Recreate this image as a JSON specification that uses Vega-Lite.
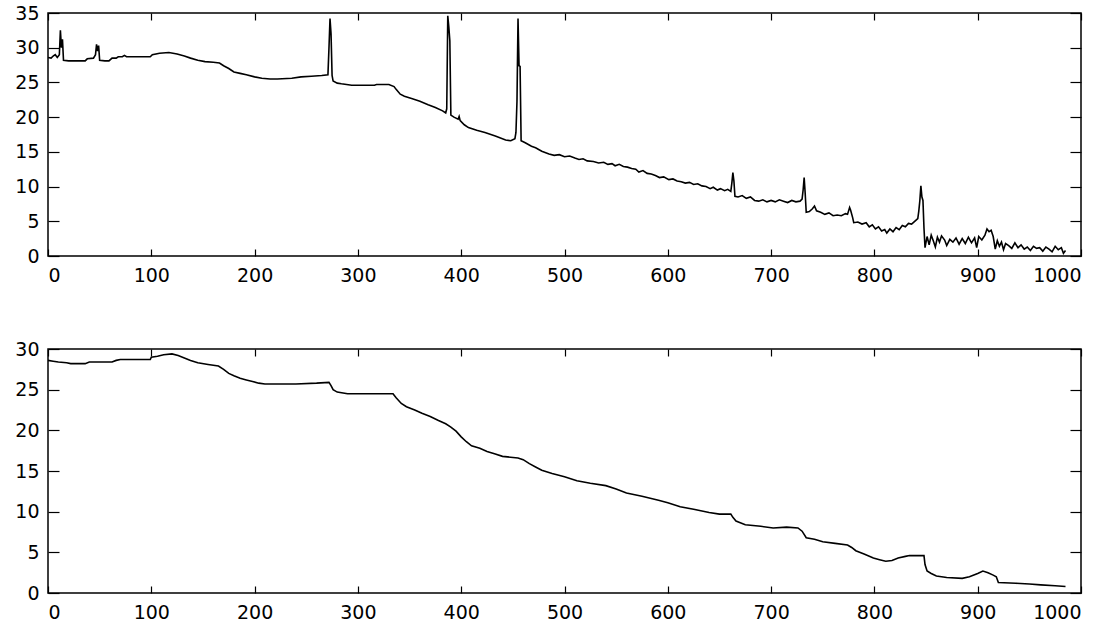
{
  "$schema": "https://vega.github.io/schema/vega-lite/v6.json",
  "background": "white",
  "padding": {"left": 14, "top": 3, "right": 5, "bottom": 5},
  "spacing": 93,
  "bounds": "flush",
  "config": {
    "view": {"stroke": "black", "strokeWidth": 1.5},
    "axis": {"labelFont": "DejaVu Sans", "labelFontSize": 19, "labelColor": "black", "domain": false, "tickColor": "black", "tickWidth": 1.2, "grid": false},
    "line": {"color": "black", "strokeWidth": 1.6}
  },
  "datasets": {
    "raw": [
      {"x":0,"y":28.6},{"x":3,"y":28.5},{"x":5,"y":28.8},{"x":7,"y":29.0},{"x":9,"y":28.6},{"x":11,"y":29.0},{"x":12,"y":32.5},{"x":13,"y":30.0},{"x":14,"y":31.2},{"x":15,"y":28.2},{"x":20,"y":28.1},{"x":30,"y":28.1},{"x":36,"y":28.1},{"x":38,"y":28.4},{"x":44,"y":28.5},{"x":46,"y":29.0},{"x":47,"y":30.5},{"x":48,"y":29.5},{"x":49,"y":30.3},{"x":50,"y":28.2},{"x":55,"y":28.1},{"x":59,"y":28.1},{"x":62,"y":28.5},{"x":66,"y":28.5},{"x":68,"y":28.7},{"x":72,"y":28.7},{"x":74,"y":28.9},{"x":76,"y":28.7},{"x":90,"y":28.7},{"x":99,"y":28.7},{"x":101,"y":29.0},{"x":108,"y":29.2},{"x":117,"y":29.3},{"x":125,"y":29.1},{"x":132,"y":28.8},{"x":138,"y":28.5},{"x":145,"y":28.2},{"x":152,"y":28.0},{"x":160,"y":27.9},{"x":166,"y":27.8},{"x":170,"y":27.4},{"x":175,"y":27.0},{"x":180,"y":26.5},{"x":186,"y":26.3},{"x":192,"y":26.1},{"x":200,"y":25.8},{"x":207,"y":25.6},{"x":215,"y":25.5},{"x":222,"y":25.5},{"x":236,"y":25.6},{"x":245,"y":25.8},{"x":255,"y":25.9},{"x":265,"y":26.0},{"x":271,"y":26.1},{"x":272,"y":30.0},{"x":273,"y":34.2},{"x":274,"y":32.0},{"x":275,"y":26.0},{"x":276,"y":25.2},{"x":280,"y":24.9},{"x":284,"y":24.8},{"x":294,"y":24.6},{"x":316,"y":24.6},{"x":318,"y":24.7},{"x":330,"y":24.7},{"x":335,"y":24.4},{"x":337,"y":24.0},{"x":341,"y":23.3},{"x":345,"y":23.0},{"x":352,"y":22.7},{"x":360,"y":22.3},{"x":368,"y":21.8},{"x":375,"y":21.4},{"x":382,"y":20.9},{"x":385,"y":20.6},{"x":386,"y":21.2},{"x":387,"y":34.6},{"x":388,"y":33.0},{"x":389,"y":31.0},{"x":390,"y":20.3},{"x":393,"y":20.0},{"x":397,"y":19.7},{"x":398,"y":20.1},{"x":399,"y":19.5},{"x":403,"y":18.9},{"x":407,"y":18.5},{"x":415,"y":18.1},{"x":423,"y":17.8},{"x":433,"y":17.3},{"x":443,"y":16.7},{"x":448,"y":16.6},{"x":452,"y":16.9},{"x":453,"y":17.8},{"x":454,"y":22.3},{"x":455,"y":34.2},{"x":456,"y":27.4},{"x":457,"y":27.3},{"x":458,"y":16.6},{"x":462,"y":16.3},{"x":468,"y":15.8},{"x":472,"y":15.6},{"x":478,"y":15.1},{"x":485,"y":14.7},
      {"x":490,"y":14.5},{"x":495,"y":14.6},{"x":500,"y":14.3},{"x":505,"y":14.4},{"x":510,"y":14.1},{"x":514,"y":13.9},{"x":518,"y":14.0},{"x":522,"y":13.7},{"x":528,"y":13.6},{"x":533,"y":13.4},{"x":538,"y":13.5},{"x":542,"y":13.2},{"x":546,"y":13.3},{"x":549,"y":13.0},{"x":553,"y":13.2},{"x":557,"y":12.9},{"x":561,"y":12.8},{"x":565,"y":12.6},{"x":569,"y":12.5},{"x":572,"y":12.1},{"x":576,"y":12.3},{"x":580,"y":11.9},{"x":584,"y":11.8},{"x":588,"y":11.6},{"x":592,"y":11.3},{"x":596,"y":11.4},{"x":601,"y":11.0},{"x":605,"y":11.1},{"x":609,"y":10.8},{"x":613,"y":10.7},{"x":617,"y":10.5},{"x":621,"y":10.6},{"x":625,"y":10.3},{"x":629,"y":10.4},{"x":633,"y":10.1},{"x":637,"y":10.0},{"x":641,"y":9.7},{"x":644,"y":9.9},{"x":648,"y":9.5},{"x":651,"y":9.7},{"x":655,"y":9.4},{"x":658,"y":9.6},{"x":661,"y":9.3},{"x":662,"y":10.5},{"x":663,"y":12.0},{"x":664,"y":10.8},{"x":665,"y":8.6},{"x":668,"y":8.5},{"x":672,"y":8.7},{"x":676,"y":8.3},{"x":680,"y":8.5},{"x":684,"y":8.0},{"x":688,"y":7.9},{"x":692,"y":8.1},{"x":696,"y":7.8},{"x":700,"y":8.0},{"x":704,"y":7.8},{"x":708,"y":8.1},{"x":712,"y":7.9},{"x":716,"y":7.7},{"x":720,"y":8.0},{"x":724,"y":7.8},{"x":728,"y":7.9},{"x":730,"y":8.2},{"x":731,"y":9.5},{"x":732,"y":11.3},{"x":733,"y":9.0},{"x":734,"y":6.3},{"x":737,"y":6.4},{"x":740,"y":6.8},{"x":742,"y":7.2},{"x":744,"y":6.5},{"x":748,"y":6.3},{"x":752,"y":6.0},{"x":756,"y":6.2},{"x":760,"y":5.8},{"x":764,"y":5.9},{"x":768,"y":5.8},{"x":772,"y":6.1},{"x":774,"y":6.0},{"x":775,"y":6.5},{"x":776,"y":7.0},{"x":777,"y":6.6},{"x":779,"y":5.5},{"x":780,"y":4.8},{"x":784,"y":4.9},{"x":788,"y":4.6},{"x":792,"y":4.8},{"x":795,"y":4.2},{"x":798,"y":4.5},{"x":801,"y":3.9},{"x":804,"y":4.2},{"x":807,"y":3.6},{"x":810,"y":3.8},{"x":812,"y":3.3},{"x":815,"y":3.9},{"x":818,"y":3.5},{"x":821,"y":4.1},{"x":824,"y":3.8},{"x":827,"y":4.4},{"x":830,"y":4.2},{"x":833,"y":4.7},{"x":836,"y":4.6},{"x":839,"y":5.0},{"x":842,"y":5.4},{"x":843,"y":6.5},{"x":844,"y":8.0},{"x":845,"y":10.1},{"x":846,"y":8.5},{"x":847,"y":8.0},{"x":848,"y":4.0},{"x":849,"y":1.2},{"x":851,"y":2.8},{"x":853,"y":1.6},{"x":855,"y":3.0},{"x":857,"y":2.2},{"x":859,"y":1.3},{"x":861,"y":2.7},{"x":863,"y":2.0},{"x":865,"y":2.9},{"x":868,"y":2.3},{"x":870,"y":1.5},{"x":873,"y":2.4},{"x":876,"y":2.0},{"x":879,"y":2.6},{"x":882,"y":1.7},{"x":885,"y":2.5},{"x":888,"y":1.8},{"x":891,"y":2.7},{"x":894,"y":1.9},{"x":897,"y":2.6},{"x":899,"y":1.2},{"x":901,"y":2.8},{"x":904,"y":2.3},{"x":907,"y":3.0},{"x":909,"y":3.9},{"x":911,"y":3.5},{"x":913,"y":3.7},{"x":915,"y":2.8},{"x":917,"y":1.0},{"x":919,"y":2.2},{"x":921,"y":1.4},{"x":923,"y":2.0},{"x":925,"y":0.9},{"x":927,"y":1.8},{"x":930,"y":1.5},{"x":933,"y":1.1},{"x":936,"y":1.9},{"x":939,"y":1.2},{"x":942,"y":1.6},{"x":945,"y":1.0},{"x":948,"y":1.3},{"x":951,"y":0.8},{"x":954,"y":1.4},{"x":957,"y":1.1},{"x":960,"y":1.2},{"x":963,"y":0.7},{"x":966,"y":1.3},{"x":969,"y":1.0},{"x":972,"y":0.6},{"x":975,"y":1.4},{"x":978,"y":0.9},{"x":981,"y":1.2},{"x":983,"y":0.4},{"x":985,"y":0.8}
    ],
    "smooth": [
      {"x":0,"y":28.6},{"x":5,"y":28.5},{"x":10,"y":28.4},{"x":18,"y":28.3},{"x":22,"y":28.2},{"x":36,"y":28.2},{"x":40,"y":28.4},{"x":62,"y":28.4},{"x":66,"y":28.6},{"x":70,"y":28.7},{"x":99,"y":28.7},{"x":100,"y":29.0},{"x":106,"y":29.1},{"x":112,"y":29.3},{"x":120,"y":29.4},{"x":126,"y":29.2},{"x":132,"y":28.9},{"x":138,"y":28.6},{"x":145,"y":28.3},{"x":155,"y":28.1},{"x":165,"y":27.9},{"x":170,"y":27.5},{"x":175,"y":27.0},{"x":180,"y":26.7},{"x":186,"y":26.4},{"x":192,"y":26.2},{"x":198,"y":26.0},{"x":204,"y":25.8},{"x":210,"y":25.7},{"x":240,"y":25.7},{"x":260,"y":25.8},{"x":272,"y":25.9},{"x":274,"y":25.5},{"x":276,"y":25.0},{"x":280,"y":24.7},{"x":290,"y":24.5},{"x":334,"y":24.5},{"x":337,"y":24.0},{"x":342,"y":23.3},{"x":347,"y":22.9},{"x":355,"y":22.5},{"x":362,"y":22.1},{"x":370,"y":21.7},{"x":378,"y":21.2},{"x":385,"y":20.8},{"x":390,"y":20.4},{"x":395,"y":19.9},{"x":400,"y":19.2},{"x":405,"y":18.6},{"x":410,"y":18.1},{"x":418,"y":17.8},{"x":425,"y":17.4},{"x":433,"y":17.1},{"x":440,"y":16.8},{"x":455,"y":16.6},{"x":460,"y":16.4},{"x":466,"y":15.9},{"x":472,"y":15.5},{"x":478,"y":15.1},{"x":488,"y":14.7},{"x":500,"y":14.3},{"x":512,"y":13.8},{"x":525,"y":13.5},{"x":540,"y":13.2},{"x":550,"y":12.8},{"x":560,"y":12.3},{"x":575,"y":11.9},{"x":591,"y":11.4},{"x":600,"y":11.1},{"x":612,"y":10.6},{"x":625,"y":10.3},{"x":640,"y":9.9},{"x":650,"y":9.7},{"x":661,"y":9.7},{"x":663,"y":9.3},{"x":666,"y":8.85},{"x":675,"y":8.4},{"x":690,"y":8.2},{"x":702,"y":8.0},{"x":715,"y":8.1},{"x":726,"y":8.0},{"x":730,"y":7.6},{"x":734,"y":6.8},{"x":742,"y":6.6},{"x":750,"y":6.3},{"x":762,"y":6.1},{"x":774,"y":5.9},{"x":778,"y":5.6},{"x":782,"y":5.2},{"x":790,"y":4.8},{"x":799,"y":4.3},{"x":805,"y":4.1},{"x":811,"y":3.9},{"x":817,"y":4.0},{"x":823,"y":4.3},{"x":830,"y":4.5},{"x":834,"y":4.6},{"x":848,"y":4.6},{"x":849,"y":3.5},{"x":851,"y":2.7},{"x":855,"y":2.4},{"x":860,"y":2.1},{"x":870,"y":1.9},{"x":885,"y":1.8},{"x":892,"y":2.0},{"x":900,"y":2.4},{"x":905,"y":2.7},{"x":910,"y":2.5},{"x":915,"y":2.2},{"x":918,"y":2.0},{"x":920,"y":1.3},{"x":937,"y":1.2},{"x":950,"y":1.1},{"x":961,"y":1.0},{"x":975,"y":0.9},{"x":985,"y":0.8}
    ]
  },
  "vconcat": [
    {
      "width": 1033, "height": 243,
      "data": {"name": "raw"},
      "resolve": {"axis": {"x": "independent", "y": "independent"}},
      "layer": [
        {
          "mark": {"type": "line"},
          "encoding": {
            "x": {"field": "x", "type": "quantitative", "title": null, "scale": {"domain": [0, 1000], "nice": false}, "axis": {"orient": "bottom", "values": [0,100,200,300,400,500,600,700,800,900,1000], "format": "d", "tickSize": 7, "offset": -7, "labelPadding": 10}},
            "y": {"field": "y", "type": "quantitative", "title": null, "scale": {"domain": [0, 35], "nice": false}, "axis": {"orient": "left", "values": [0,5,10,15,20,25,30,35], "format": "d", "tickSize": 11, "offset": -11, "labelPadding": 9}}
          }
        },
        {
          "mark": {"type": "line", "opacity": 0},
          "encoding": {
            "x": {"field": "x", "type": "quantitative", "title": null, "axis": {"orient": "top", "values": [0,100,200,300,400,500,600,700,800,900,1000], "tickSize": 7, "offset": -7, "labels": false}},
            "y": {"field": "y", "type": "quantitative", "title": null, "axis": {"orient": "right", "values": [0,5,10,15,20,25,30,35], "tickSize": 11, "offset": -11, "labels": false}}
          }
        }
      ]
    },
    {
      "width": 1033, "height": 244,
      "data": {"name": "smooth"},
      "resolve": {"axis": {"x": "independent", "y": "independent"}},
      "layer": [
        {
          "mark": {"type": "line"},
          "encoding": {
            "x": {"field": "x", "type": "quantitative", "title": null, "scale": {"domain": [0, 1000], "nice": false}, "axis": {"orient": "bottom", "values": [0,100,200,300,400,500,600,700,800,900,1000], "format": "d", "tickSize": 7, "offset": -7, "labelPadding": 10}},
            "y": {"field": "y", "type": "quantitative", "title": null, "scale": {"domain": [0, 30], "nice": false}, "axis": {"orient": "left", "values": [0,5,10,15,20,25,30], "format": "d", "tickSize": 11, "offset": -11, "labelPadding": 9}}
          }
        },
        {
          "mark": {"type": "line", "opacity": 0},
          "encoding": {
            "x": {"field": "x", "type": "quantitative", "title": null, "axis": {"orient": "top", "values": [0,100,200,300,400,500,600,700,800,900,1000], "tickSize": 7, "offset": -7, "labels": false}},
            "y": {"field": "y", "type": "quantitative", "title": null, "axis": {"orient": "right", "values": [0,5,10,15,20,25,30], "tickSize": 11, "offset": -11, "labels": false}}
          }
        }
      ]
    }
  ]
}
